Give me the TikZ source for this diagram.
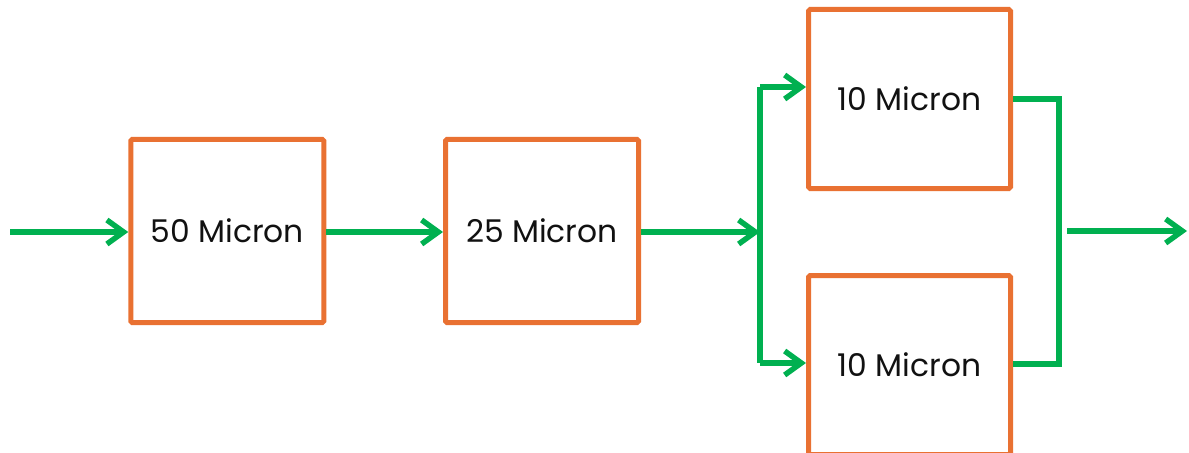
\documentclass[tikz,border=0pt]{standalone}
\usepackage{fontspec}
\setmainfont{Poppins}
\usetikzlibrary{arrows.meta}
\definecolor{boxorange}{HTML}{E97132}
\definecolor{flowgreen}{HTML}{00B050}
\definecolor{txt}{HTML}{111111}
\tikzset{
  unitbox/.style={draw=boxorange, line width=3.75pt, rounded corners=1.2pt, fill=white,
    minimum width=144pt, minimum height=137pt, inner sep=0pt,
    font=\fontsize{23.5}{28}\selectfont, text=txt},
  flow/.style={draw=flowgreen, line width=4.1pt},
  flowarr/.style={flow, -{Straight Barb[length=12.5pt, width=18pt, line width=4.1pt]}},
}
\begin{document}
\begin{tikzpicture}[x=0.75pt, y=-0.75pt]
\useasboundingbox (0,0) rectangle (1189,453);
% boxes (centre-line coordinates in pixels)
\node[unitbox, minimum width=144.75pt, minimum height=137.6pt] (b1) at (227.25,231) {50 Micron};
\node[unitbox, minimum width=144.75pt, minimum height=137.6pt] (b2) at (542,231) {25 Micron};
\node[unitbox, minimum width=151.5pt, minimum height=134.25pt] (b3) at (909.5,99) {10 Micron};
\node[unitbox, minimum width=151.5pt, minimum height=134.25pt] (b4) at (909.5,365) {10 Micron};
% helper coordinates
\coordinate (inS) at (10,232);
\coordinate (split) at (760,232);
\coordinate (sTop) at (760,87);
\coordinate (sBot) at (760,363);
\coordinate (mTop) at (1059,99);
\coordinate (mBot) at (1059,364);
\coordinate (outS) at (1067,231);
\coordinate (outE) at (1187,231);
% connectors
\draw[flowarr] (inS) -- (inS -| b1.west);
\draw[flowarr] (b1.east |- inS) -- (b2.west |- inS);
\draw[flowarr] (b2.east |- split) -- (split);
\draw[flow] (sTop) -- (sBot);
\draw[flowarr] (sTop) -- (sTop -| b3.west);
\draw[flowarr] (sBot) -- (sBot -| b4.west);
\draw[flow] (mTop -| b3.east) -- (mTop) -- (mBot) -- (mBot -| b4.east);
\draw[flowarr] (outS) -- (outE);
\end{tikzpicture}
\end{document}
